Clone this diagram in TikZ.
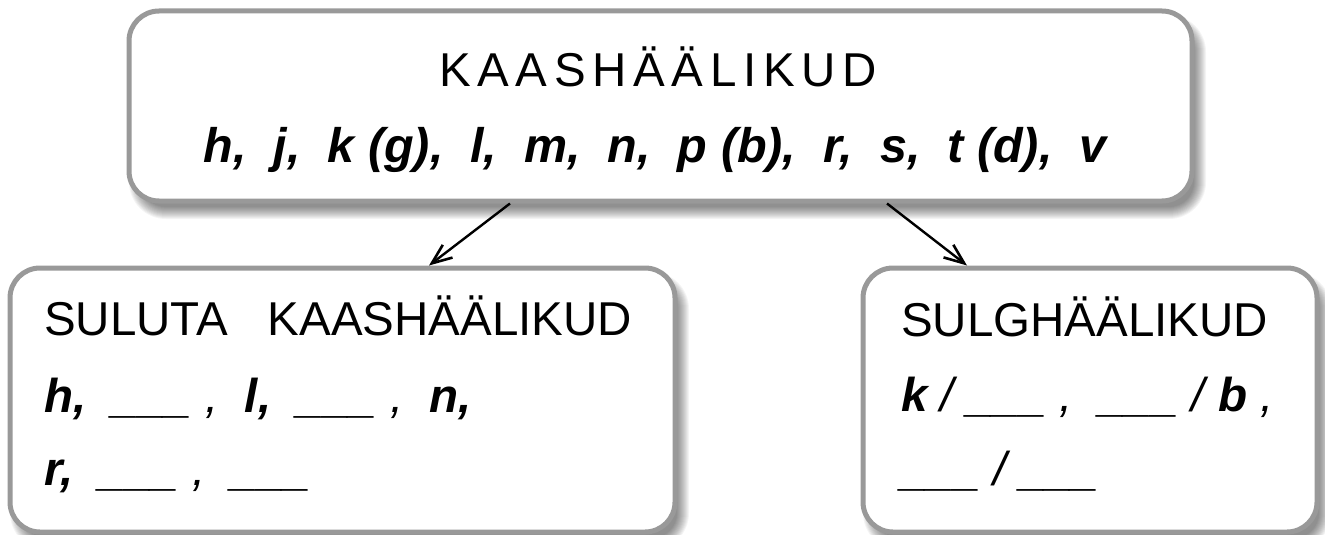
\documentclass[tikz,border=0pt]{standalone}
\usepackage{fontspec}
\setmainfont{Liberation Sans}
\usetikzlibrary{arrows.meta}
\definecolor{boxgray}{RGB}{153,153,153}
\tikzset{
  panel/.style={draw=boxgray, line width=5pt, fill=white, rounded corners=30pt, inner sep=0pt},
  txt/.style={anchor=base west, inner sep=0pt, font=\fontsize{47.5}{57}\selectfont},
  arr/.style={line width=2.4pt, -{Straight Barb[length=20pt,width=16pt,line width=2.6pt]}},
}
\newcommand\softshadow[4]{%
  \foreach \e [evaluate=\e as \r using 30+\e] in {-5,...,7}{
    \fill[black, opacity=0.045, rounded corners=\r pt] (#1+7-\e,#2+11-\e) rectangle (#3+7+\e,#4+11+\e);
  }}
\begin{document}
\begin{tikzpicture}[x=1pt,y=-1pt]
\useasboundingbox (0,0) rectangle (1325,535);
\softshadow{129}{11}{1192}{201}
\softshadow{10}{268}{675}{532}
\softshadow{863}{268}{1317}{532}
\node[panel, minimum width=1063pt, minimum height=190pt] (top) at (660.5,106) {};
\node[panel, minimum width=665pt, minimum height=264pt] (left) at (342.5,400) {};
\node[panel, minimum width=454pt, minimum height=264pt] (right) at (1090,400) {};

\node[txt, anchor=base] (title) at (658,86) {\addfontfeature{LetterSpace=14}KAASHÄÄLIKUD};
\node[txt, anchor=base, font=\fontsize{48.5}{58}\selectfont] (list) at (655,162) {\bfseries\itshape h,\ \ j,\ \ k (g),\ \ l,\ \ m,\ \ n,\ \ p (b),\ \ r,\ \ s,\ \ t (d),\ \ v};

\node[txt] (lt) at (44,335) {SULUTA\ \ \ KAASHÄÄLIKUD};
\node[txt] (l1) at (44,412) {\itshape\textbf{h,}\ \ \_\_\_\ ,\ \ \textbf{l,}\ \ \_\_\_\ ,\ \ \textbf{n,}};
\node[txt] (l2) at (44,485) {\itshape\textbf{r,}\ \ \_\_\_\ ,\ \ \_\_\_};

\node[txt] (rt) at (901,336) {SULGHÄÄLIKUD};
\node[txt] (r1) at (901,411) {\itshape\textbf{k} / \_\_\_\ ,\ \ \_\_\_\ / \textbf{b} ,};
\node[txt] (r2) at (901,485) {\itshape\_\_\_\ / \_\_\_};

\draw[arr] ([xshift=-150.5pt]top.south) -- ([xshift=86.5pt]left.north);
\draw[arr] ([xshift=226.5pt]top.south) -- ([xshift=-123pt]right.north);
\end{tikzpicture}
\end{document}
